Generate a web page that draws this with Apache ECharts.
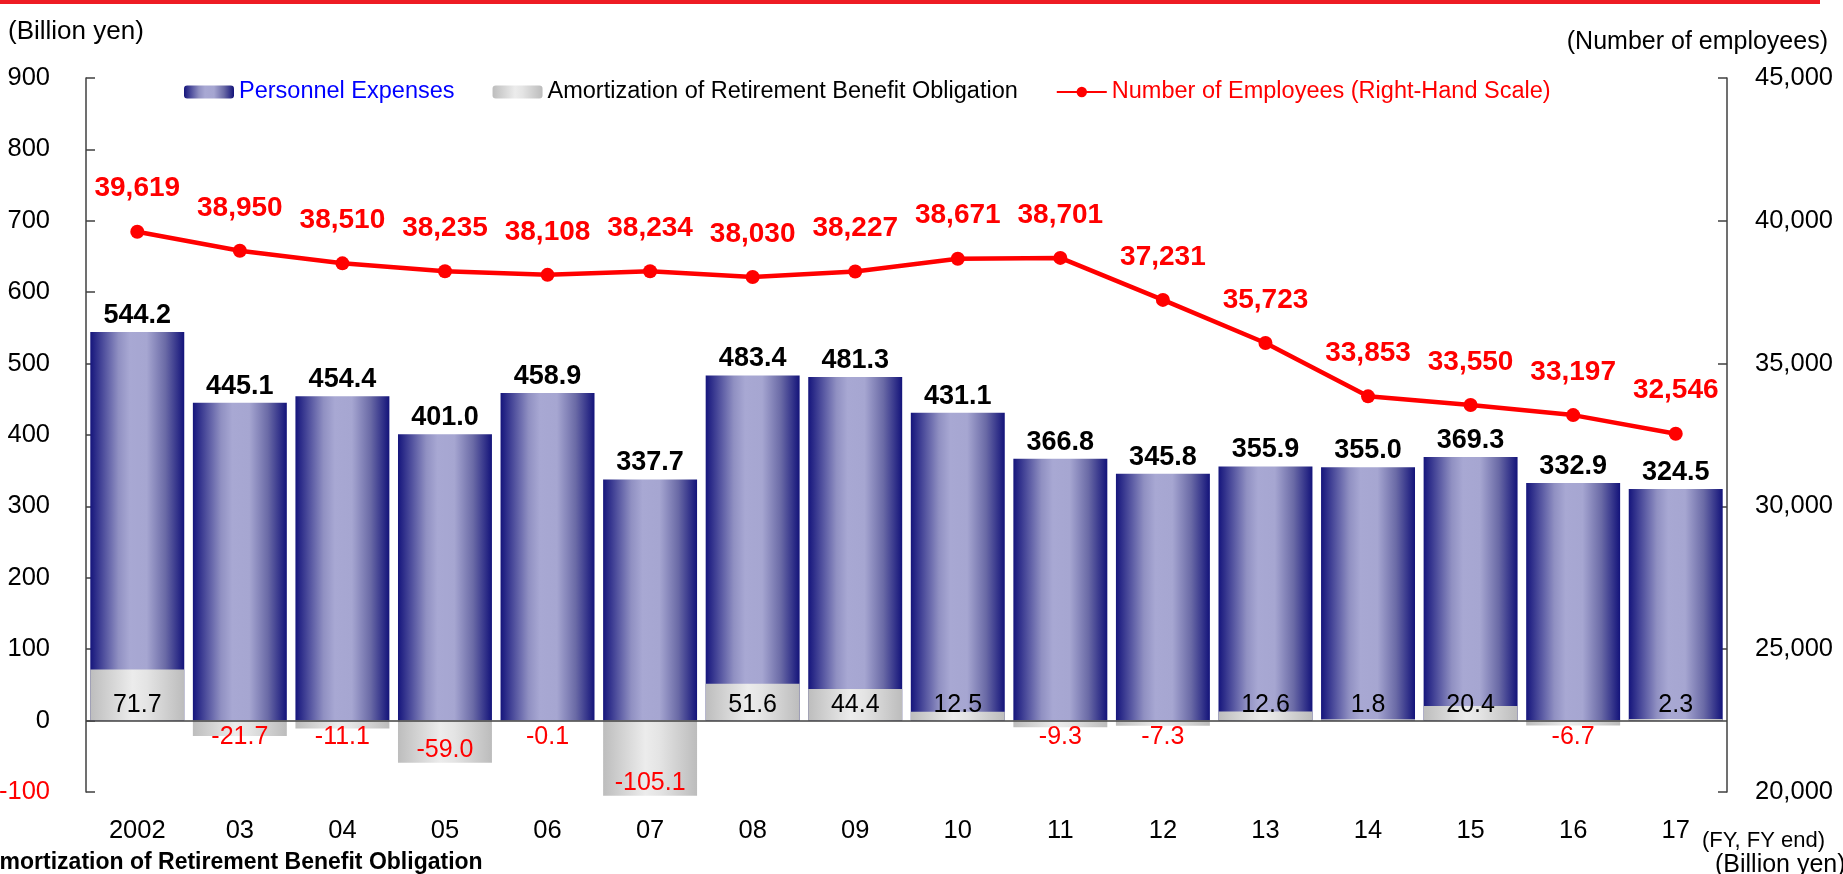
<!DOCTYPE html>
<html>
<head>
<meta charset="utf-8">
<script src="https://cdn.jsdelivr.net/npm/echarts@6/dist/echarts.min.js"></script>
<style>
  html, body { margin: 0; padding: 0; background: #fff; }
  #chart { width: 1843px; height: 874px; }
</style>
</head>
<body>
<div id="chart"></div>
<script>
  // fiscal years (x axis)
  const years = ['2002', '03', '04', '05', '06', '07', '08', '09', '10', '11', '12', '13', '14', '15', '16', '17'];
  // billion yen
  const personnelExpenses = [544.2, 445.1, 454.4, 401.0, 458.9, 337.7, 483.4, 481.3, 431.1, 366.8, 345.8, 355.9, 355.0, 369.3, 332.9, 324.5];
  const retirementAmortization = [71.7, -21.7, -11.1, -59.0, -0.1, -105.1, 51.6, 44.4, 12.5, -9.3, -7.3, 12.6, 1.8, 20.4, -6.7, 2.3];
  // number of employees (right-hand scale)
  const employees = [39619, 38950, 38510, 38235, 38108, 38234, 38030, 38227, 38671, 38701, 37231, 35723, 33853, 33550, 33197, 32546];
  // axis ranges: min, max, interval
  const leftAxis = [-100, 900, 100];
  const rightAxis = [20000, 45000, 5000];

  const FONT = "'Liberation Sans', Arial, sans-serif";
  const RED = '#ff0000';

  let blueGrad = new echarts.graphic.LinearGradient(0, 0, 1, 0, [
    {offset: 0, color: '#15157c'},
    {offset: 0.3, color: '#9090c2'},
    {offset: 0.42, color: '#a8a8d3'},
    {offset: 0.6, color: '#a6a6d1'},
    {offset: 0.8, color: '#6a6aa6'},
    {offset: 1, color: '#13137a'}
  ]);
  let greyGrad = new echarts.graphic.LinearGradient(0, 0, 1, 0, [
    {offset: 0, color: '#bdbdbd'},
    {offset: 0.45, color: '#ececec'},
    {offset: 0.6, color: '#e4e4e4'},
    {offset: 1, color: '#bcbcbc'}
  ]);

  // positive values black above the zero line, negative ones red below it
  let amortData = retirementAmortization.map(v => {
    let label;
    if (v >= 0) {
      label = {position: 'insideBottom', distance: 3, color: '#000'};
    } else if (v < -40) {
      label = {position: 'insideBottom', distance: 0, color: RED};
    } else {
      label = {position: 'insideTop', distance: 4, color: RED};
    }
    return {value: v, label: label};
  });

  let myChart = echarts.init(document.getElementById('chart'));
  let option = {
    animation: false,
    textStyle: {fontFamily: FONT},
    grid: {left: 86, right: 116, top: 78, bottom: 82, outerBoundsMode: 'none'},
    legend: {
      left: 179,
      top: 75,
      itemWidth: 50,
      itemHeight: 13,
      itemGap: 38,
      textStyle: {fontFamily: FONT, fontSize: 23.5},
      data: [
        {name: 'Personnel Expenses', textStyle: {color: '#0000ff'}},
        {name: 'Amortization of Retirement Benefit Obligation', textStyle: {color: '#000'}},
        {name: 'Number of Employees (Right-Hand Scale)', textStyle: {color: RED}}
      ]
    },
    xAxis: {
      type: 'category',
      data: years,
      axisLine: {show: false, onZero: false},
      axisTick: {show: false},
      axisLabel: {margin: 26, fontSize: 25.5, color: '#000', fontFamily: FONT}
    },
    yAxis: [
      {
        type: 'value',
        min: leftAxis[0], max: leftAxis[1], interval: leftAxis[2],
        splitLine: {show: false},
        axisLine: {show: true, lineStyle: {color: '#404040', width: 1.5}},
        axisTick: {show: true, inside: true, length: 9, lineStyle: {color: '#404040', width: 1.5}},
        axisLabel: {
          margin: 36, fontSize: 25.5, fontFamily: FONT,
          color: v => (Number(v) < 0 ? RED : '#000')
        }
      },
      {
        type: 'value',
        position: 'right',
        min: rightAxis[0], max: rightAxis[1], interval: rightAxis[2],
        splitLine: {show: false},
        axisLine: {show: true, lineStyle: {color: '#404040', width: 1.5}},
        axisTick: {show: true, inside: true, length: 9, lineStyle: {color: '#404040', width: 1.5}},
        axisLabel: {
          margin: 28, fontSize: 25.5, fontFamily: FONT, color: '#000',
          formatter: v => Number(v).toLocaleString('en-US')
        }
      }
    ],
    series: [
      {
        name: 'Personnel Expenses',
        type: 'bar',
        data: personnelExpenses,
        barWidth: '91.6%',
        itemStyle: {color: blueGrad},
        label: {
          show: true, position: 'top', distance: 3,
          fontSize: 27, fontWeight: 'bold', color: '#000', fontFamily: FONT,
          formatter: p => p.value.toFixed(1)
        }
      },
      {
        name: 'Amortization of Retirement Benefit Obligation',
        type: 'bar',
        data: amortData,
        barWidth: '91.6%',
        barGap: '-100%',
        clip: false,
        itemStyle: {color: greyGrad},
        label: {
          show: true, fontSize: 25, fontFamily: FONT,
          formatter: p => p.value.toFixed(1)
        },
        // zero baseline
        markLine: {
          silent: true,
          symbol: 'none',
          label: {show: false},
          lineStyle: {color: '#404040', width: 1.5, type: 'solid'},
          data: [{yAxis: 0}]
        }
      },
      {
        name: 'Number of Employees (Right-Hand Scale)',
        type: 'line',
        yAxisIndex: 1,
        data: employees,
        symbol: 'circle',
        symbolSize: 14,
        z: 5,
        itemStyle: {color: RED},
        lineStyle: {color: RED, width: 4.5},
        label: {
          show: true, position: 'top', distance: 22,
          fontSize: 28, fontWeight: 'bold', color: RED, fontFamily: FONT,
          formatter: p => p.value.toLocaleString('en-US')
        }
      }
    ],
    graphic: [
      {type: 'rect', left: 0, top: 0, shape: {width: 1820, height: 4}, style: {fill: '#ee1c24'}},
      {type: 'text', left: 8, top: 19, style: {text: '(Billion yen)', fontSize: 26, fontFamily: FONT, fill: '#000'}},
      {type: 'text', right: 15, top: 30, style: {text: '(Number of employees)', fontSize: 25, fontFamily: FONT, fill: '#000'}},
      {type: 'text', left: 1702, top: 830, style: {text: '(FY, FY end)', fontSize: 22, fontFamily: FONT, fill: '#000'}},
      {type: 'text', left: 1715, top: 853, style: {text: '(Billion yen)', fontSize: 25, fontFamily: FONT, fill: '#000'}},
      {type: 'text', left: -17, top: 851, style: {text: 'Amortization of Retirement Benefit Obligation', fontSize: 23, fontWeight: 'bold', fontFamily: FONT, fill: '#000'}}
    ]
  };
  myChart.setOption(option);
</script>
</body>
</html>
